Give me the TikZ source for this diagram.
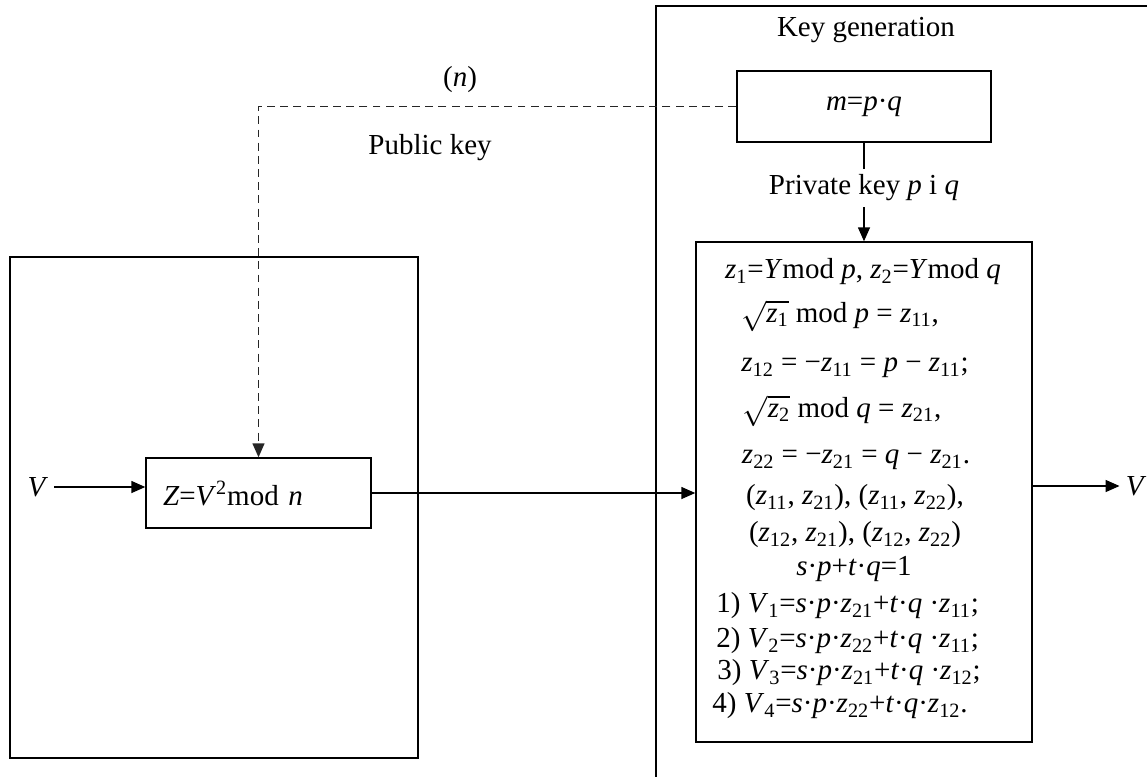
\documentclass[tikz,border=0pt]{standalone}
\usepackage{fontspec}
\setmainfont{Liberation Serif}
\usetikzlibrary{arrows.meta, positioning, calc}

\newcommand{\zsub}[1]{\textit{z}\textsubscript{#1}}
\newcommand{\Vsub}[1]{\textit{V}\textsubscript{#1}}

\begin{document}
\begin{tikzpicture}[
    font=\fontsize{16.5}{20}\selectfont,
    box/.style={draw, line width=0.8pt, inner sep=0pt},
    arrow/.style={-{Triangle[length=2.8mm, width=2.4mm]}, line width=0.8pt},
    dashline/.style={dash pattern=on 4.5pt off 3pt, line width=1pt, draw=black!85},
    frame/.style={draw, line width=0.8pt},
    eq/.style={inner sep=0pt}
]
\useasboundingbox (0,0) rectangle (22.94,-15.52);

% Frames
\draw[frame] (0.2,-5.14) rectangle (8.36,-15.16);
\draw[frame] (13.12,-0.12) rectangle (23.4,-16.0);
\node (title) at (17.32,-0.6) {Key generation};

% Key generation
\node[box, minimum width=5.08cm, minimum height=1.42cm] (keygen) at (17.28,-2.13) {\textit{m}=\textit{p}·\textit{q}};
\node (privkey) at (17.28,-3.76) {Private key \textit{p} i \textit{q}};

% Encryption
\node[box, minimum width=4.5cm, minimum height=1.4cm, text width=3.82cm, inner xsep=0.34cm, align=left] (encrypt) at (5.17,-9.86) {\textit{Z}=\textit{V}\textsuperscript{2}mod \textit{n}};
\node (vin) at (0.76,-9.74) {\textit{V}};

% Decryption
\node[box, minimum width=6.72cm, minimum height=10cm] (decrypt) at (17.28,-9.84) {};
\node (vout) at (22.72,-9.72) {\textit{V}};

\node[eq] (l1) at (17.26,-5.44) {\zsub{1}=\textit{Y}mod \textit{p}, \zsub{2}=\textit{Y}mod \textit{q}};
\node[eq] (l2) at (16.8,-6.32) {$\sqrt{\hbox{\zsub{1}}}$ mod \textit{p} = \zsub{11},};
\node[eq] (l3) at (17.1,-7.36) {\zsub{12} = −\zsub{11} = \textit{p} − \zsub{11};};
\node[eq] (l4) at (16.84,-8.22) {$\sqrt{\hbox{\zsub{2}}}$ mod \textit{q} = \zsub{21},};
\node[eq] (l5) at (17.12,-9.2) {\zsub{22} = −\zsub{21} = \textit{q} − \zsub{21}.};
\node[eq] (l6) at (17.1,-9.96) {(\zsub{11}, \zsub{21}), (\zsub{11}, \zsub{22}),};
\node[eq] (l7) at (17.1,-10.7) {(\zsub{12}, \zsub{21}), (\zsub{12}, \zsub{22})};
\node[eq] (l8) at (17.08,-11.38) {\textit{s}·\textit{p}+\textit{t}·\textit{q}=1};
\node[eq, anchor=west] (l9) at (14.32,-12.12) {1) \Vsub{1}=\textit{s}·\textit{p}·\zsub{21}+\textit{t}·\textit{q} ·\zsub{11};};
\node[eq, anchor=west] (l10) at (14.32,-12.82) {2) \Vsub{2}=\textit{s}·\textit{p}·\zsub{22}+\textit{t}·\textit{q} ·\zsub{11};};
\node[eq, anchor=west] (l11) at (14.34,-13.46) {3) \Vsub{3}=\textit{s}·\textit{p}·\zsub{21}+\textit{t}·\textit{q} ·\zsub{12};};
\node[eq, anchor=west] (l12) at (14.24,-14.12) {4) \Vsub{4}=\textit{s}·\textit{p}·\zsub{22}+\textit{t}·\textit{q}·\zsub{12}.};

% Public key
\node (nlabel) at (9.2,-1.6) {(\textit{n})};
\node (pubkey) at (8.6,-2.96) {Public key};

% Arrows
\draw[dashline, arrow] (keygen.west) -| (encrypt.north);
\draw[line width=0.8pt] (keygen) -- (privkey);
\draw[arrow] (privkey) -- (decrypt);
\draw[arrow] (vin) -- (vin -| encrypt.west);
\draw[arrow] (encrypt.east) -- (encrypt.east -| decrypt.west);
\draw[arrow] (vout -| decrypt.east) -- (vout);

\end{tikzpicture}
\end{document}
